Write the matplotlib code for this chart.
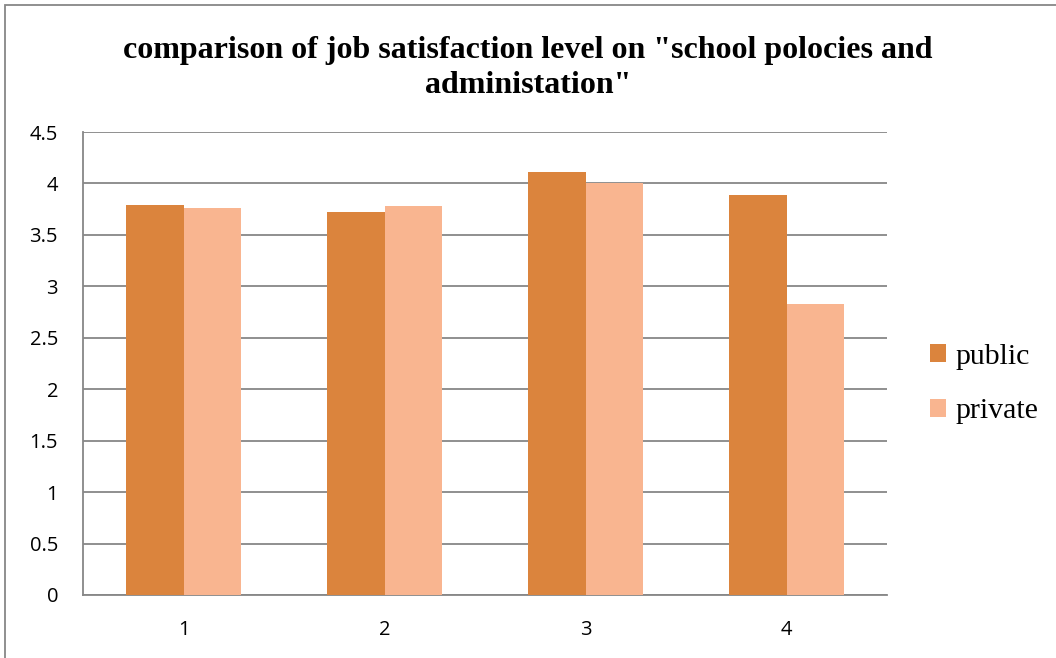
import matplotlib.pyplot as plt
import numpy as np
from matplotlib.patches import Rectangle

# Data
categories = ['1', '2', '3', '4']
public = [3.79, 3.72, 4.11, 3.89]
private = [3.76, 3.78, 4.00, 2.83]

W, H = 1056, 658
fig = plt.figure(figsize=(W / 100, H / 100), dpi=100)
ax = fig.add_axes([83 / W, 1 - 595 / H, (887 - 83) / W, (595 - 132) / H])

x = np.arange(len(categories))
bw = 0.286
ax.bar(x - bw / 2, public, bw, color='#DB843D', label='public', zorder=3)
ax.bar(x + bw / 2, private, bw, color='#F9B590', label='private', zorder=3)

ax.set_xlim(-0.5, len(categories) - 0.5)
ax.set_ylim(0, 4.5)
ax.set_yticks(np.arange(0, 4.51, 0.5))
ax.set_yticklabels(['0', '0.5', '1', '1.5', '2', '2.5', '3', '3.5', '4', '4.5'])
ax.set_xticks(x)
ax.set_xticklabels(categories)
ax.yaxis.grid(True, color='#878787', linewidth=1.3, zorder=0)
ax.tick_params(length=0, labelsize=14.5)
ax.tick_params(axis='y', pad=18)
ax.tick_params(axis='x', pad=18)
for lbl in ax.get_xticklabels() + ax.get_yticklabels():
    lbl.set_family('Open Sans')

for s in ['top', 'right']:
    ax.spines[s].set_visible(False)
for s in ['left', 'bottom']:
    ax.spines[s].set_color('#878787')
    ax.spines[s].set_linewidth(1.3)

fig.text(0.5, 1 - 68 / H, 'comparison of job satisfaction level on "school polocies and\nadministation"',
         ha='center', va='center', fontsize=23, fontweight='bold',
         family='Liberation Serif', linespacing=1.25)

leg = fig.legend(loc='center left', bbox_to_anchor=(930 / W, 1 - 384 / H), frameon=False,
                 prop={'family': 'Liberation Serif', 'size': 21.5},
                 borderpad=0, borderaxespad=0,
                 handlelength=0.55, handleheight=0.55, handletextpad=0.3, labelspacing=0.95)

# outer chart border
fig.patches.append(Rectangle((5 / W, -0.1), 1.2, 1 - 5 / H + 0.1, transform=fig.transFigure,
                             fill=False, edgecolor='#878787', linewidth=1.3))

fig.savefig('out.png', dpi=100)
